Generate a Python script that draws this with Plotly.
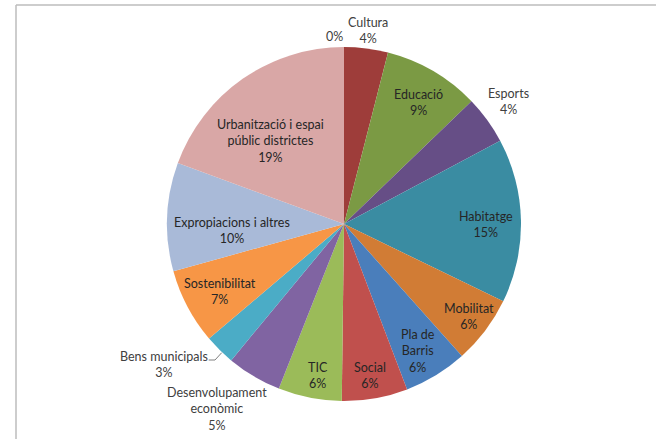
import plotly.graph_objects as go

categories = ["Cultura", "Educació", "Esports", "Habitatge", "Mobilitat", "Pla de Barris",
              "Social", "TIC", "Desenvolupament econòmic", "Bens municipals",
              "Sostenibilitat", "Expropiacions i altres",
              "Urbanització i espai públic districtes", ""]
shares = [4.0, 8.8, 4.4, 15.0, 6.2, 5.8, 6.0, 5.8, 5.0, 2.8, 6.9, 9.9, 19.4, 0.0]
label_lines = ["Cultura", "Educació", "Esports", "Habitatge", "Mobilitat", "Pla de<br>Barris",
               "Social", "TIC", "Desenvolupament<br>econòmic", "Bens municipals",
               "Sostenibilitat", "Expropiacions i altres",
               "Urbanització i espai<br>públic districtes", ""]
colors = ["#9E3D3A", "#7B9A44", "#664E86", "#3A8CA2", "#D17C35", "#4A7EBB",
          "#C0504D", "#9BBB59", "#8064A2", "#4BACC6", "#F79646", "#A9BAD8",
          "#D9A7A6", "#C0C0C0"]

# label anchor positions in pixels (layout only), and whether label is outside the pie
label_pos = [(368, 30), (418, 102), (508, 101), (486, 224), (469, 316), (418, 351),
             (370, 375), (318, 375), (217, 409), (164, 364), (220, 291), (232, 230),
             (270, 141), (334, 36)]
outside = [True, False, True, False, False, False, False, False, True, True,
           False, False, False, True]

W, H = 656, 439
def px(x):
    return x / W
def py(y):
    return 1 - y / H

total = sum(shares)
annotations = []
for name, v, (x, y), out in zip(label_lines, shares, label_pos, outside):
    pct = f"{round(v / total * 100)}%"
    txt = f"{name}<br>{pct}" if name else pct
    annotations.append(dict(
        x=px(x), y=py(y), xref="paper", yref="paper", text=txt, showarrow=False,
        xanchor="center", yanchor="middle", align="center",
        font=dict(family="Lato", size=12.5, color="#404040" if out else "#262626"),
    ))

cx, cy, r = 344, 224, 177
fig = go.Figure(go.Pie(
    labels=[c if c else "Altres" for c in categories],
    values=shares,
    textinfo="none",
    sort=False,
    direction="clockwise",
    rotation=0,
    marker=dict(colors=colors, line=dict(color="#FFFFFF", width=0)),
    showlegend=False,
    hoverinfo="label+percent",
    domain=dict(x=[px(cx - 212), px(cx + 212)], y=[py(cy + r), py(cy - r)]),
))

leader = (f"M {px(208.7)},{py(360)} L {px(215)},{py(360)} L {px(221.7)},{py(352.7)}")
fig.update_layout(
    width=W, height=H,
    margin=dict(l=0, r=0, t=0, b=0),
    paper_bgcolor="white",
    plot_bgcolor="white",
    font=dict(family="Lato", size=12, color="#404040"),
    annotations=annotations,
    shapes=[
        dict(type="line", xref="paper", yref="paper", x0=px(16), x1=px(16), y0=py(5), y1=-0.02,
             line=dict(color="#BDBDBD", width=1.5)),
        dict(type="line", xref="paper", yref="paper", x0=px(16), x1=1.02, y0=py(5), y1=py(5),
             line=dict(color="#BDBDBD", width=1.5)),
        dict(type="path", xref="paper", yref="paper", path=leader,
             line=dict(color="#808080", width=1)),
    ],
)

fig.write_html("out.html", config={"displayModeBar": False},
               post_script="document.body.style.margin='0';")
